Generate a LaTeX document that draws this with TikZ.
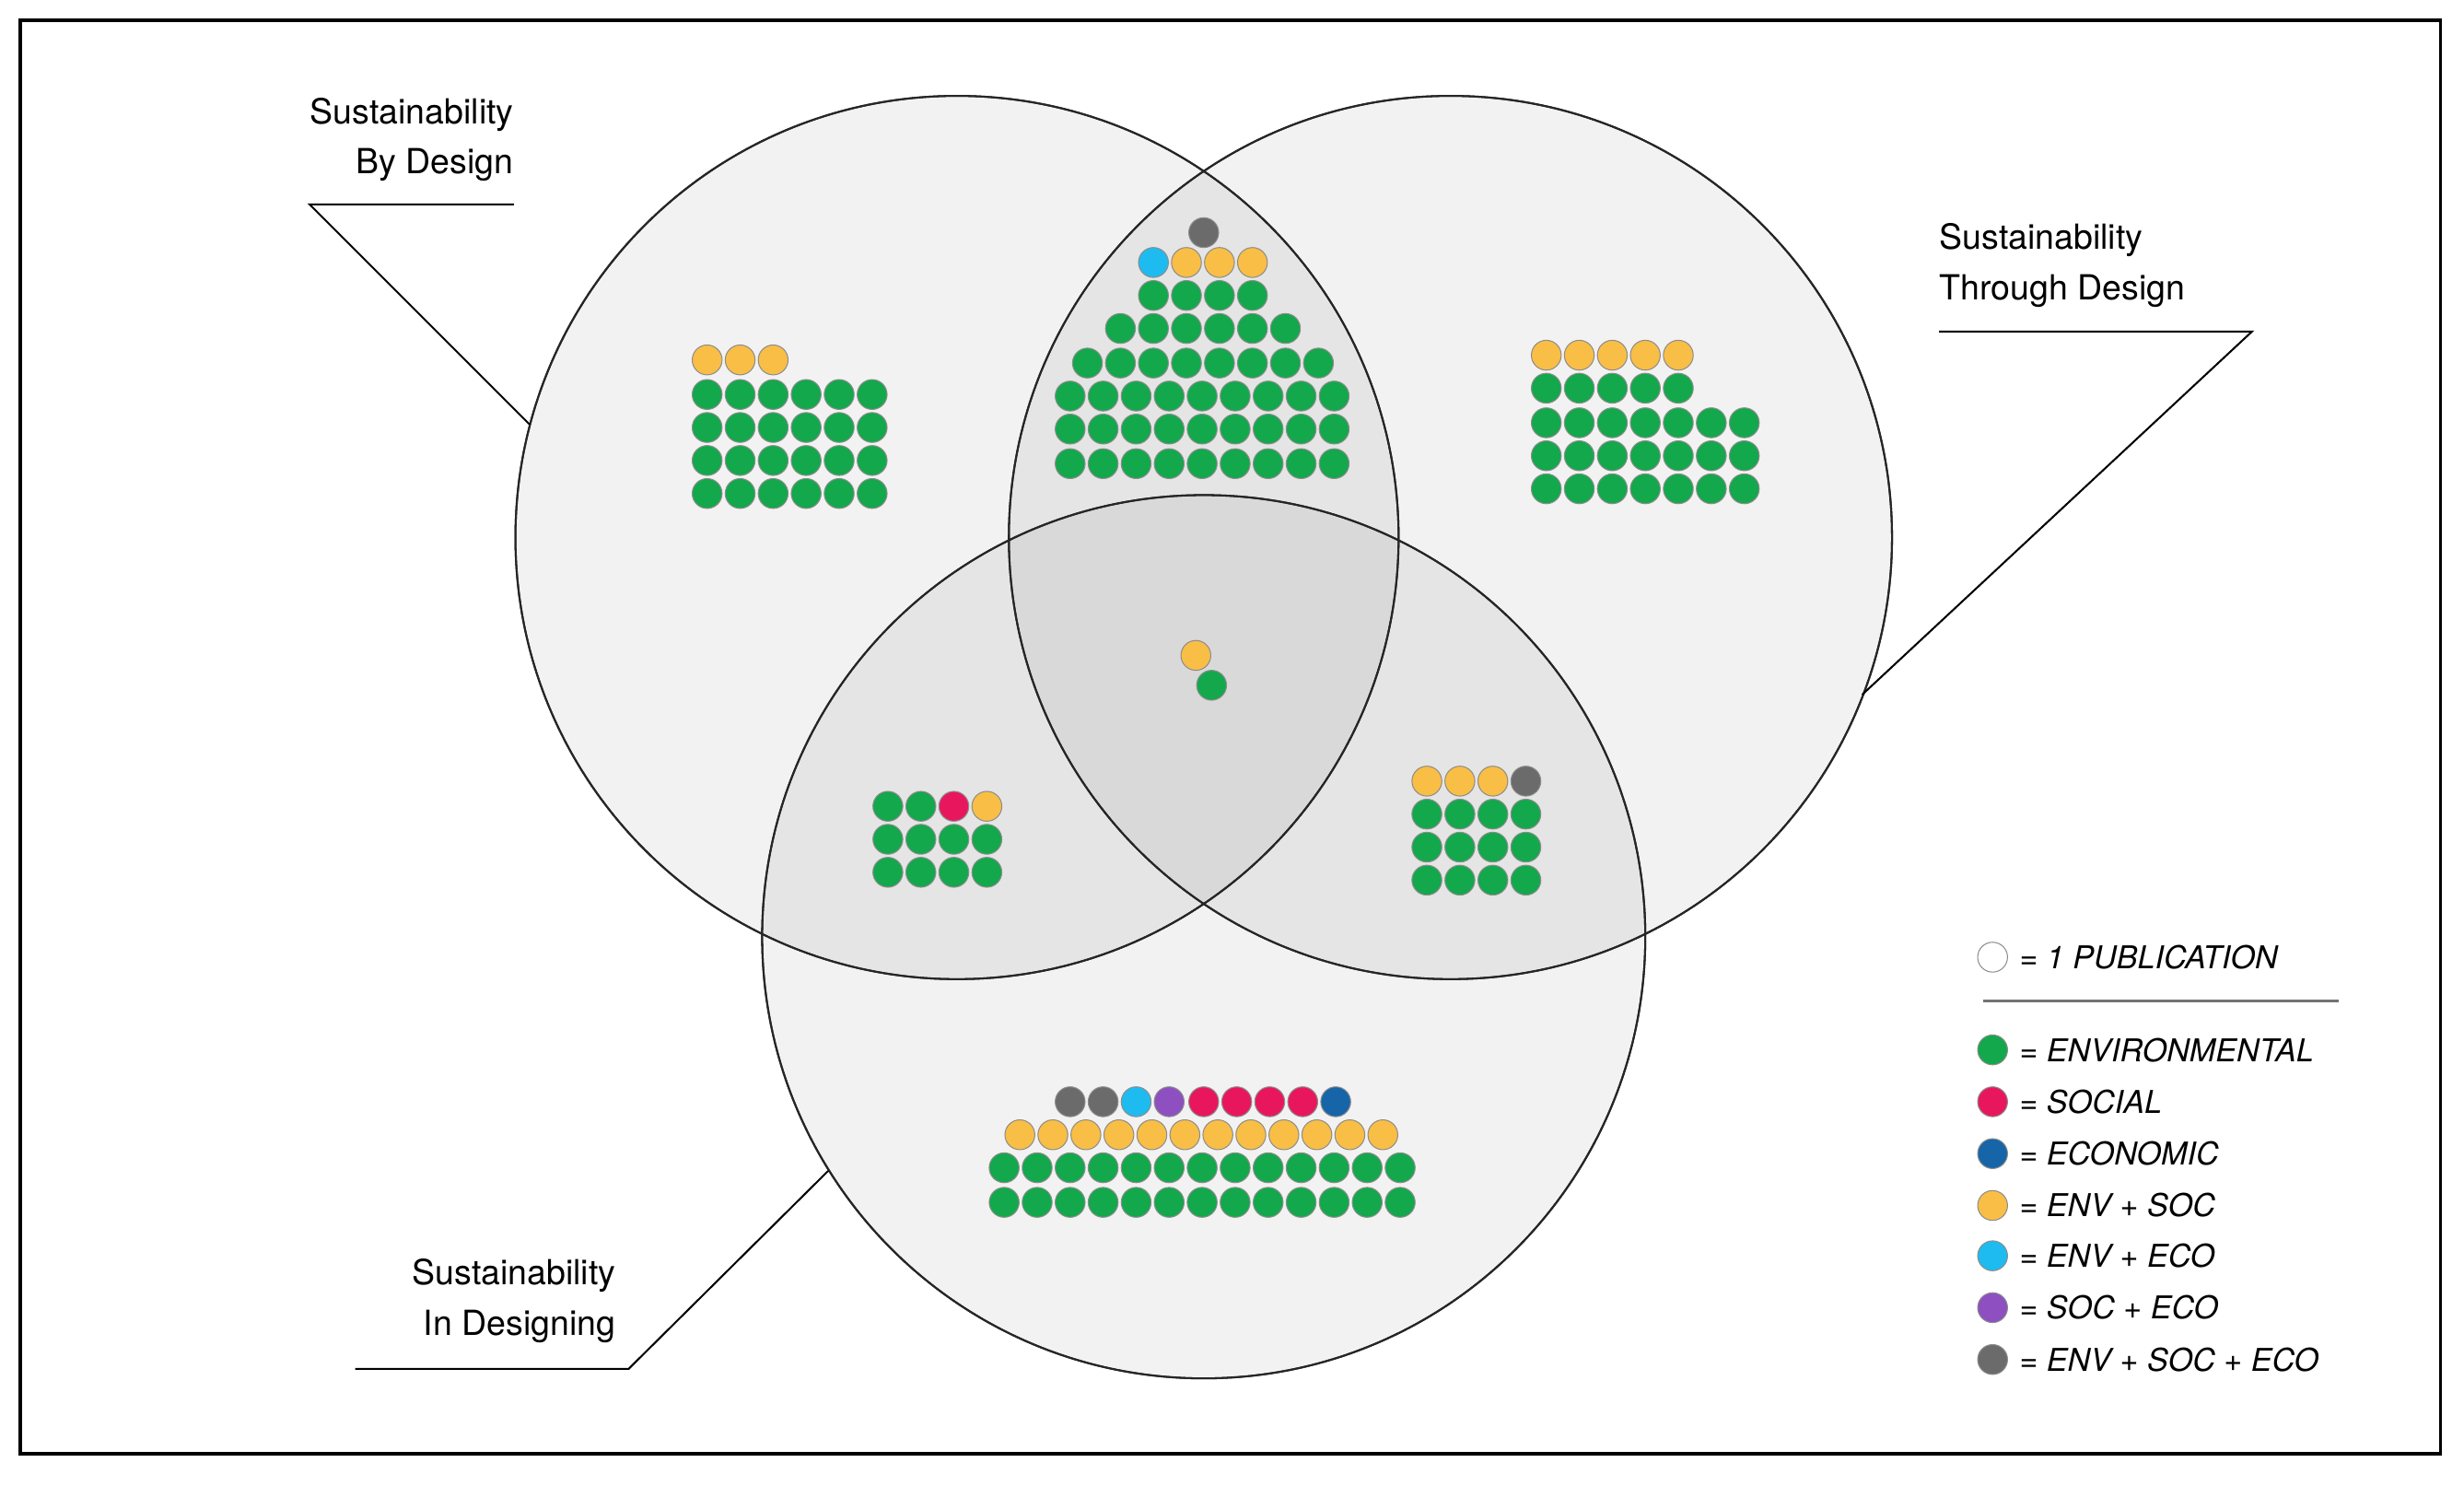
\documentclass[tikz,border=0pt]{standalone}
\usepackage{fontspec}
\setmainfont{TeX Gyre Heros}
\begin{document}
\begin{tikzpicture}[x=1pt,y=-1pt,
  venn/.style={draw=black!85,line width=1.2pt,fill=black,fill opacity=0.05},
  dot/.style={circle,draw=black!45,line width=0.6pt,minimum size=19pt,inner sep=0pt},
  lbl/.style={font=\fontsize{22}{32}\selectfont,inner sep=0pt},
  leg/.style={font=\fontsize{20}{24}\selectfont\itshape,anchor=west,inner sep=0pt},
  lead/.style={line width=1.2pt,black}]
\definecolor{env}{HTML}{12A84B}
\definecolor{soc}{HTML}{E8175D}
\definecolor{eco}{HTML}{1565A8}
\definecolor{es}{HTML}{F9BE45}
\definecolor{ee}{HTML}{1EBBF0}
\definecolor{se}{HTML}{8E4FC1}
\definecolor{ese}{HTML}{6B6B6B}
\fill[white] (0,0) rectangle (1568,945);
\useasboundingbox (0,0) rectangle (1568,945);
\draw[line width=2pt] (13,13) rectangle (1553,925);
\path[venn] (609,342) circle (281);
\path[venn] (923,342) circle (281);
\path[venn] (766,596) circle (281);
\draw[black!85,line width=1.2pt] (609,342) circle (281) (923,342) circle (281) (766,596) circle (281);
% row macro: \dr{color}{x0}{y}{n}
\newcommand\dr[4]{\foreach \i in {1,...,#4}{\node[dot,fill=#1] at ({#2+21*(\i-1)},#3) {};}}
% left
\dr{es}{450}{229}{3}
\foreach \y in {251,272,293,314}{\dr{env}{450}{\y}{6}}
% top intersection
\node[dot,fill=ese] at (766,148) {};
\node[dot,fill=ee] at (734,167) {};
\dr{es}{755}{167}{3}
\dr{env}{734}{188}{4}
\dr{env}{713}{209}{6}
\dr{env}{692}{231}{8}
\foreach \y in {252,273,295}{\dr{env}{681}{\y}{9}}
% right
\dr{es}{984}{226}{5}
\dr{env}{984}{247}{5}
\foreach \y in {269,290,311}{\dr{env}{984}{\y}{7}}
% center
\node[dot,fill=es] at (761,417) {};
\node[dot,fill=env] at (771,436) {};
% bottom-left
\dr{env}{565}{513}{2}
\node[dot,fill=soc] at (607,513) {};
\node[dot,fill=es] at (628,513) {};
\dr{env}{565}{534}{4}
\dr{env}{565}{555}{4}
% bottom-right
\dr{es}{908}{497}{3}
\node[dot,fill=ese] at (971,497) {};
\foreach \y in {518,539,560}{\dr{env}{908}{\y}{4}}
% bottom
\dr{ese}{681}{701}{2}
\node[dot,fill=ee] at (723,701) {};
\node[dot,fill=se] at (744,701) {};
\dr{soc}{766}{701}{4}
\node[dot,fill=eco] at (850,701) {};
\dr{es}{649}{722}{12}
\dr{env}{639}{743}{13}
\dr{env}{639}{765}{13}
% labels
\node[lbl,align=right,anchor=north east] (l1) at (327,62) {Sustainability\\By Design};
\coordinate (a1) at (197,130); \coordinate (b1) at (327,130); \coordinate (c1) at (337,270);
\draw[lead] (b1) -- (a1) -- (c1);
\node[lbl,align=left,anchor=north west] (l2) at (1234,142) {Sustainability\\Through Design};
\coordinate (a2) at (1234,211); \coordinate (b2) at (1433,211); \coordinate (c2) at (1185,442);
\draw[lead] (a2) -- (b2) -- (c2);
\node[lbl,align=right,anchor=north east] (l3) at (392,801) {Sustainability\\In Designing};
\coordinate (a3) at (226,871); \coordinate (b3) at (400,871); \coordinate (c3) at (527,745);
\draw[lead] (a3) -- (b3) -- (c3);
% legend
\node[dot,fill=white] (k0) at (1268,609) {};
\node[leg] at (1285,609) {= 1 PUBLICATION};
\coordinate (s1) at (1262,637); \coordinate (s2) at (1488,637);
\draw[black!55,line width=1.5pt] (s1) -- (s2);
\foreach \c/\t/\y in {env/ENVIRONMENTAL/668,soc/SOCIAL/701,eco/ECONOMIC/734,es/ENV + SOC/767,ee/ENV + ECO/799,se/SOC + ECO/832,ese/ENV + SOC + ECO/865}{
  \node[dot,fill=\c] at (1268,\y) {};
  \node[leg] at (1285,\y) {= \t};
}
\end{tikzpicture}
\end{document}
